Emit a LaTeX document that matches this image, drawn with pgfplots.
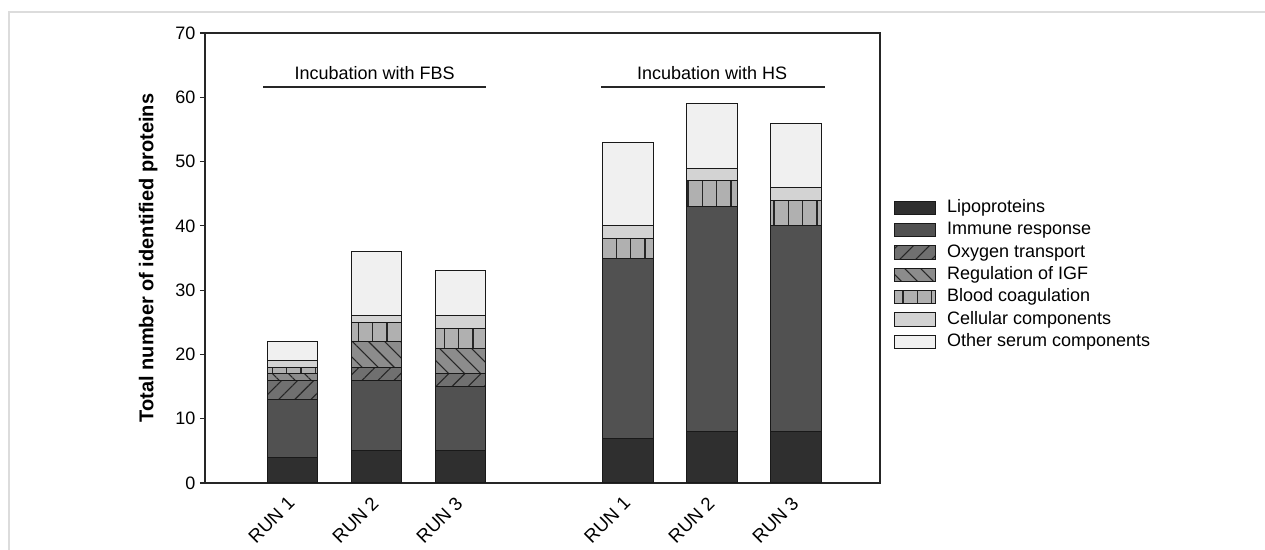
\documentclass[border=0pt]{standalone}
\usepackage{pgfplots}
\pgfplotsset{compat=1.18}
\usepackage{fontspec}
\setmainfont{Liberation Sans}
\usetikzlibrary{patterns.meta}
\definecolor{cLipo}{HTML}{2F2F2F}
\definecolor{cImm}{HTML}{515151}
\definecolor{cOxy}{HTML}{707070}
\definecolor{cIGF}{HTML}{8C8C8C}
\definecolor{cBlood}{HTML}{B0B0B0}
\definecolor{cCell}{HTML}{D3D3D3}
\definecolor{cOther}{HTML}{F0F0F0}
\definecolor{cFrame}{HTML}{DCDCDC}
\begin{document}
\begin{tikzpicture}
\path[use as bounding box] (-153.75pt,-50.25pt) rectangle (795pt,362.25pt);
\draw[cFrame, line width=0.9pt] (-147pt,-51pt) -- (-147pt,353.25pt) -- (796pt,353.25pt);
\begin{axis}[
  scale only axis,
  width=506.25pt, height=337.5pt,
  ybar stacked,
  bar width=0.6,
  xmin=-1.04, xmax=7,
  ymin=0, ymax=70,
  ytick={0,10,...,70},
  xtick={0,1,2,4,5,6},
  xticklabels={RUN 1,RUN 2,RUN 3,RUN 1,RUN 2,RUN 3},
  x tick label style={rotate=45, anchor=north east, font=\fontsize{14}{16}\selectfont, inner sep=1pt, yshift=0.25pt, xshift=-5.75pt},
  y tick label style={font=\fontsize{13.5}{16}\selectfont},
  /pgf/number format/assume math mode=true,
  tick align=outside,
  ytick pos=left,
  xtick style={draw=none},
  major tick length=3.75pt,
  axis line style={line width=0.9pt, draw=black!85},
  ytick style={line width=0.9pt, draw=black!85},
  ylabel={\textbf{Total number of identified proteins}},
  every axis y label/.style={at={(axis description cs:-0.084,0.5)}, rotate=90, anchor=center, font=\fontsize{15}{18}\selectfont},
  legend style={at={(axis description cs:1.0145,0.636)}, anchor=north west, draw=none, fill=none,
     font=\fontsize{13.5}{16}\selectfont, row sep=4.5pt, column sep=8pt,
     nodes={inner sep=0pt, text height=9.5pt, text depth=2.75pt}},
  legend cell align=left,
  legend image code/.code={\draw[#1] (0pt,-5pt) rectangle (31pt,5pt);},
  every axis plot/.append style={draw=black!90, line width=0.75pt},
]
\addplot[fill=cLipo] coordinates {(0,4) (1,5) (2,5) (4,7) (5,8) (6,8)};
\addlegendentry{Lipoproteins}
\addplot[fill=cImm] coordinates {(0,9) (1,11) (2,10) (4,28) (5,35) (6,32)};
\addlegendentry{Immune response}
\addplot[fill=cOxy, postaction={pattern={Lines[angle=45,distance=8.5pt,line width=0.8pt]}, pattern color=black!85}] coordinates {(0,3) (1,2) (2,2) (4,0) (5,0) (6,0)};
\addlegendentry{Oxygen transport}
\addplot[fill=cIGF, postaction={pattern={Lines[angle=-45,distance=8.5pt,line width=0.8pt]}, pattern color=black!85}] coordinates {(0,1) (1,4) (2,4) (4,0) (5,0) (6,0)};
\addlegendentry{Regulation of IGF}
\addplot[fill=cBlood, postaction={pattern={Lines[angle=90,distance=10.75pt,line width=0.8pt]}, pattern color=black!85}] coordinates {(0,1) (1,3) (2,3) (4,3) (5,4) (6,4)};
\addlegendentry{Blood coagulation}
\addplot[fill=cCell] coordinates {(0,1) (1,1) (2,2) (4,2) (5,2) (6,2)};
\addlegendentry{Cellular components}
\addplot[fill=cOther] coordinates {(0,3) (1,10) (2,7) (4,13) (5,10) (6,10)};
\addlegendentry{Other serum components}
\draw[line width=0.9pt, black!85] (axis cs:-0.345,61.6) -- (axis cs:2.31,61.6);
\draw[line width=0.9pt, black!85] (axis cs:3.68,61.6) -- (axis cs:6.35,61.6);
\node[font=\fontsize{13.5}{16}\selectfont, anchor=base] at (axis cs:0.98,62.7) {Incubation with FBS};
\node[font=\fontsize{13.5}{16}\selectfont, anchor=base] at (axis cs:5.0,62.7) {Incubation with HS};
\end{axis}
\end{tikzpicture}
\end{document}
